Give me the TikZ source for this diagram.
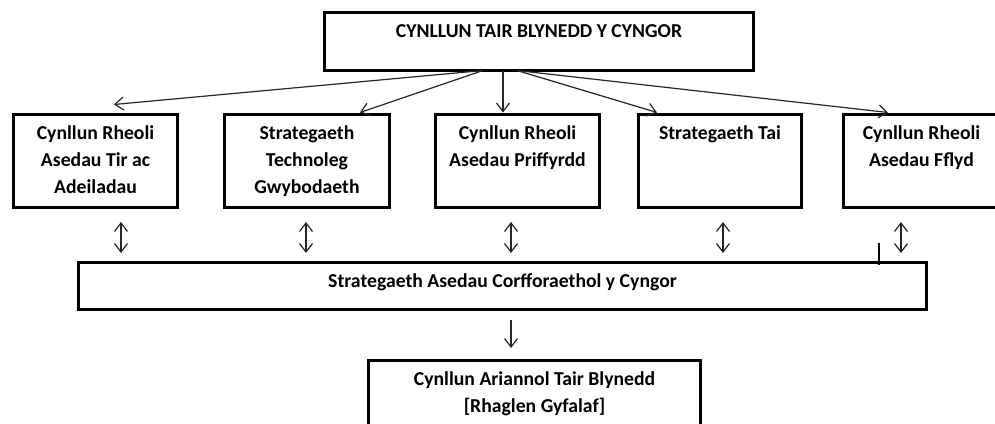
\documentclass[tikz,border=0pt]{standalone}
\usepackage{fontspec}
\setmainfont{Carlito}
\usetikzlibrary{arrows.meta,calc}
\begin{document}
\begin{tikzpicture}[x=1pt,y=-1pt,
  box/.style={draw=black,line width=2.8pt,anchor=north west,inner sep=0pt,outer sep=0pt},
  lbl/.style={anchor=base,inner sep=0pt,font=\bfseries\fontsize{19.7}{27}\selectfont},
  link/.style={draw=black!85,line width=1.2pt,-{Straight Barb[length=8.5pt,width=13pt]}},
  dbl/.style={draw=black!85,line width=1.2pt,{Straight Barb[length=8.5pt,width=13pt]}-{Straight Barb[length=8.5pt,width=13pt]}},
  tick/.style={draw=black,line width=2pt}]
\useasboundingbox (0,0) rectangle (995,423);
\clip (0,0) rectangle (995,423);
\fill[white] (0,0) rectangle (995,423);

% boxes
\node[box,minimum width=429pt,minimum height=58pt] (top) at (324.5,12.5) {};
\node[box,minimum width=164pt,minimum height=93pt] (b1) at (13.5,114.5) {};
\node[box,minimum width=165pt,minimum height=93pt] (b2) at (224.5,114.5) {};
\node[box,minimum width=164pt,minimum height=93pt] (b3) at (435.5,114.5) {};
\node[box,minimum width=163pt,minimum height=93pt] (b4) at (638.5,114.5) {};
\node[box,minimum width=200pt,minimum height=93pt] (b5) at (843.5,114.5) {};
\node[box,minimum width=848pt,minimum height=47pt] (strat) at (78.5,262.5) {};
\node[box,minimum width=332pt,minimum height=90pt] (bot) at (368.5,360.5) {};

% texts
\node[lbl] (ttop) at ([yshift=-24.5pt]top.north) {CYNLLUN TAIR BLYNEDD Y CYNGOR};
\node[lbl] (t1) at ([yshift=-24.5pt]b1.north) {\parbox[t]{160pt}{\centering Cynllun Rheoli\\Asedau Tir ac\\Adeiladau}};
\node[lbl] (t2) at ([yshift=-24.5pt]b2.north) {\parbox[t]{160pt}{\centering Strategaeth\\Technoleg\\Gwybodaeth}};
\node[lbl] (t3) at ([yshift=-24.5pt]b3.north) {\parbox[t]{160pt}{\centering Cynllun Rheoli\\Asedau Priffyrdd}};
\node[lbl] (t4) at ([yshift=-24.5pt]b4.north) {Strategaeth Tai};
\node[lbl] (t5) at ([xshift=78pt,yshift=-24.5pt]b5.north west) {\parbox[t]{160pt}{\centering Cynllun Rheoli\\Asedau Fflyd}};
\node[lbl] (tstrat) at ([yshift=-25pt]strat.north) {Strategaeth Asedau Corfforaethol y Cyngor};
\node[lbl] (tbot) at ([yshift=-24.5pt]bot.north) {\parbox[t]{330pt}{\centering Cynllun Ariannol Tair Blynedd\\{[Rhaglen Gyfalaf]}}};

% arrows from top box
\draw[link] ([xshift=-56pt]top.south) -- ($(b1.north)+(18.5,-10)$);
\draw[link] ([xshift=-56pt]top.south) -- ($(b2.north)+(53,-2)$);
\draw[link] ([xshift=-36pt]top.south) -- ($(b3.north)+(-14.5,-2)$);
\draw[link] ([xshift=-22pt]top.south) -- ($(b4.north)+(-63,-2)$);
\draw[link] ([xshift=-22pt]top.south) -- ($(b5.north west)+(44.5,-2)$);

% double arrows to strategy box
\draw[dbl] ($(b1.south)+(25.5,14.5)$) -- ($(b1.south |- strat.north)+(25.5,-9.5)$);
\draw[dbl] ($(b2.south)+(-1,14.5)$) -- ($(b2.south |- strat.north)+(-1,-9.5)$);
\draw[dbl] ($(b3.south)+(-6.5,14.5)$) -- ($(b3.south |- strat.north)+(-6.5,-9.5)$);
\draw[dbl] ($(b4.south)+(3,14.5)$) -- ($(b4.south |- strat.north)+(3,-9.5)$);
\draw[dbl] ($(b5.south west)+(57.5,14.5)$) -- ($(b5.south west |- strat.north)+(57.5,-9.5)$);

% stray tick
\draw[tick] ($(strat.north east)+(-47.5,-19.5)$) -- ($(strat.north east)+(-47.5,2.5)$);

% arrow to bottom box
\draw[link] ($(strat.south)+(8.5,10.5)$) -- ($(bot.north)+(-23.5,-12.5)$);
\end{tikzpicture}
\end{document}
